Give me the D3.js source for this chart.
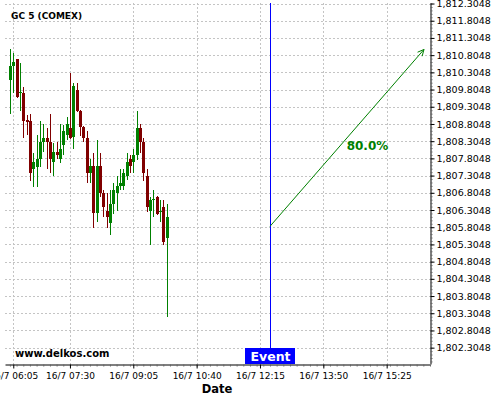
<!DOCTYPE html>
<html><head><meta charset="utf-8">
<script src="https://cdn.jsdelivr.net/npm/d3@7"></script>
<style>body{margin:0;background:#fff}svg{display:block}text{font-family:"DejaVu Sans",sans-serif}</style>
</head><body><svg id="c" width="500" height="400"></svg>
<script>
const chartTitle = "GC 5 (COMEX)";
const watermark = "www.delkos.com";
const xAxisTitle = "Date";
const datePrefix = "16/7 ";
const times = ["06:00","06:05","06:10","06:15","06:20","06:25","06:30","06:35","06:40","06:45","06:50","06:55",
  "07:00","07:05","07:10","07:15","07:20","07:25","07:30","07:35","07:40","07:45","07:50","07:55",
  "08:00","08:05","08:10","08:15","08:20","08:25","08:30","08:35","08:40","08:45","08:50","08:55",
  "09:00","09:05","09:10","09:15","09:20","09:25","09:30","09:35","09:40","09:45","09:50","09:55"];
const opens  = [1810.08,1810.49,1810.69,1809.72,1809.70,1808.92,1808.89,1807.49,1807.55,1807.78,1808.28,1808.39,
  1808.28,1807.70,1807.99,1807.78,1808.19,1808.48,1808.69,1808.42,1809.79,1809.18,1808.71,1808.39,
  1807.38,1807.58,1806.21,1807.58,1806.80,1806.27,1805.92,1806.48,1806.80,1807.00,1807.00,1807.29,
  1807.78,1807.70,1807.90,1808.69,1808.28,1807.29,1806.27,1806.61,1806.68,1806.26,1806.39,1805.49];
const highs  = [1810.98,1810.87,1810.69,1810.57,1809.88,1809.06,1809.09,1807.96,1808.48,1808.89,1808.80,1808.69,
  1809.09,1808.25,1808.28,1808.80,1808.77,1809.01,1810.28,1809.99,1809.99,1809.20,1808.74,1808.60,
  1807.78,1807.96,1808.34,1807.96,1806.90,1806.80,1806.88,1807.09,1807.29,1807.49,1807.49,1807.96,
  1807.90,1808.07,1809.18,1808.80,1808.39,1807.49,1806.68,1806.88,1806.70,1806.59,1806.59,1806.48];
const lows   = [1809.09,1809.70,1809.57,1809.18,1808.39,1808.48,1807.14,1806.97,1806.97,1807.55,1807.99,1807.49,
  1807.38,1807.29,1807.78,1807.67,1807.90,1808.34,1808.36,1808.07,1809.15,1808.45,1808.28,1807.09,
  1807.09,1805.78,1805.95,1806.68,1806.10,1805.78,1805.57,1806.19,1806.27,1806.88,1806.88,1807.17,
  1807.38,1807.38,1807.75,1807.96,1807.14,1806.24,1805.28,1806.10,1806.16,1805.95,1805.28,1803.19];
const closes = [1810.49,1810.60,1809.59,1809.74,1808.89,1808.90,1807.38,1807.70,1807.78,1808.28,1808.39,1808.28,
  1807.78,1807.99,1807.90,1808.07,1808.60,1808.80,1808.39,1809.91,1809.18,1808.71,1808.41,1807.38,
  1807.58,1806.21,1807.58,1806.80,1806.39,1806.10,1806.48,1806.88,1807.00,1807.09,1807.38,1807.70,
  1807.58,1807.90,1808.69,1808.28,1807.38,1806.39,1806.59,1806.63,1806.19,1806.28,1805.37,1806.10];
const xTickTimes = ["06:05","07:30","09:05","10:40","12:15","13:50","15:25"];
const yTickValues = [1802.3048,1802.8048,1803.3048,1803.8048,1804.3048,1804.8048,1805.3048,1805.8048,1806.3048,
  1806.8048,1807.3048,1807.8048,1808.3048,1808.8048,1809.3048,1809.8048,1810.3048,1810.8048,1811.3048,1811.8048,1812.3048];
const xDomain = ["05:52:36","16:30:00"];
const yDomain = [1801.83, 1812.32];
const eventTime = "12:30";
const eventLabel = "Event";
const arrowStart = ["12:30", 1805.83];
const arrowEnd = ["16:21", 1810.97];
const probLabel = "80.0%";
const probLabelPos = ["14:25", 1808.05];

const parseT = s => { const p = s.split(":").map(Number); return new Date(2020,6,16,p[0],p[1],p[2]||0); };
const svg = d3.select("#c");
const L = 5, R = 430, T = 3, B = 364;
const x = d3.scaleTime().domain(xDomain.map(parseT)).range([L, R]);
const y = d3.scaleLinear().domain(yDomain).range([B, T]);
const green = "#008000", red = "#800000", gridC = "#c4c4c4";

// grid
const g = svg.append("g").attr("shape-rendering","crispEdges");
g.selectAll(".hg").data(yTickValues).join("line")
  .attr("x1",L).attr("x2",R).attr("y1",d=>Math.round(y(d))+0.5).attr("y2",d=>Math.round(y(d))+0.5)
  .attr("stroke",gridC).attr("stroke-dasharray","2,2");
g.selectAll(".vg").data(xTickTimes).join("line")
  .attr("y1",T).attr("y2",B).attr("x1",d=>Math.round(x(parseT(d)))+0.5).attr("x2",d=>Math.round(x(parseT(d)))+0.5)
  .attr("stroke",gridC).attr("stroke-dasharray","2,2");

// title
svg.append("text").attr("x",11).attr("y",19).attr("font-size","9px").attr("font-weight","bold").text(chartTitle);

// candles
const data = times.map((t,i)=>({t:parseT(t),o:opens[i],h:highs[i],l:lows[i],c:closes[i]}));
const cg = svg.append("g").attr("shape-rendering","crispEdges");
data.forEach(d=>{
  const cx = Math.round(x(d.t));
  const col = d.c >= d.o ? green : red;
  cg.append("line").attr("x1",cx+0.5).attr("x2",cx+0.5).attr("y1",y(d.h)).attr("y2",y(d.l)).attr("stroke",col);
  const top = Math.min(y(d.o),y(d.c)), hgt = Math.max(1.5,Math.abs(y(d.o)-y(d.c)));
  cg.append("rect").attr("x",cx-1).attr("width",3).attr("y",top).attr("height",hgt).attr("fill",col);
});

// event line
const ex = Math.round(x(parseT(eventTime)))+0.5;
svg.append("line").attr("x1",ex).attr("x2",ex).attr("y1",T).attr("y2",348).attr("stroke","#0000ff").attr("stroke-width",1);

// arrow
const ax1 = x(parseT(arrowStart[0])), ay1 = y(arrowStart[1]);
const ax2 = x(parseT(arrowEnd[0])), ay2 = y(arrowEnd[1]);
svg.append("line").attr("x1",ax1).attr("y1",ay1).attr("x2",ax2).attr("y2",ay2).attr("stroke",green).attr("stroke-width",1);
const ang = Math.atan2(ay2-ay1, ax2-ax1), hl = 7, ha = 0.45;
[ang+Math.PI-ha, ang+Math.PI+ha].forEach(a=>{
  svg.append("line").attr("x1",ax2).attr("y1",ay2).attr("x2",ax2+hl*Math.cos(a)).attr("y2",ay2+hl*Math.sin(a))
    .attr("stroke",green).attr("stroke-width",1);
});
svg.append("text").attr("x",x(parseT(probLabelPos[0]))).attr("y",y(probLabelPos[1]))
  .attr("font-size","12px").attr("font-weight","bold").attr("fill",green).text(probLabel);

// watermark
svg.append("text").attr("x",15).attr("y",357).attr("font-size","10px").attr("font-weight","bold").text(watermark);

// event box
svg.append("rect").attr("x",ex-25.5).attr("y",348).attr("width",50).attr("height",16).attr("fill","#0000ff");
svg.append("text").attr("x",ex).attr("y",361).attr("text-anchor","middle").attr("fill","#fff")
  .attr("font-size","12.5px").attr("font-weight","bold").text(eventLabel);

// right axis
const yMinor = d3.range(1801.9048, 1812.33, 0.1);
const ra = svg.append("g").attr("transform",`translate(${R+0.5},0)`);
ra.call(d3.axisRight(y).tickValues(yMinor).tickSize(2).tickFormat("").tickSizeOuter(0));
ra.call(g=>g.selectAll(".tick line").attr("stroke","#666"));
const ra2 = svg.append("g").attr("transform",`translate(${R+0.5},0)`);
ra2.call(d3.axisRight(y).tickValues(yTickValues).tickSize(4).tickPadding(2).tickFormat(d3.format(",.4f")).tickSizeOuter(0));
ra2.selectAll("text").attr("font-size","9.5px").attr("font-family","DejaVu Sans").attr("fill","#000");
ra2.select(".domain").remove();
ra.select(".domain").attr("stroke","#000");

// bottom axis
const xMinor = d3.timeMinute.every(10).range(parseT("05:55"), parseT("16:31"));
const ba = svg.append("g").attr("transform",`translate(0,${B+0.5})`);
ba.call(d3.axisBottom(x).tickValues(xMinor).tickSize(2).tickFormat("").tickSizeOuter(0));
ba.selectAll(".tick line").attr("stroke","#666");
ba.select(".domain").attr("stroke","#000");
const ba2 = svg.append("g").attr("transform",`translate(0,${B+0.5})`);
ba2.call(d3.axisBottom(x).tickValues(xTickTimes.map(parseT)).tickSize(4).tickPadding(4)
  .tickFormat((d,i)=>datePrefix+xTickTimes[i]).tickSizeOuter(0));
ba2.select(".domain").remove();
ba2.selectAll("text").attr("font-size","9px").attr("font-family","DejaVu Sans").attr("fill","#000");

svg.append("text").attr("x",217).attr("y",393).attr("text-anchor","middle").attr("font-size","11.5px")
  .attr("font-weight","bold").text(xAxisTitle);
</script></body></html>
